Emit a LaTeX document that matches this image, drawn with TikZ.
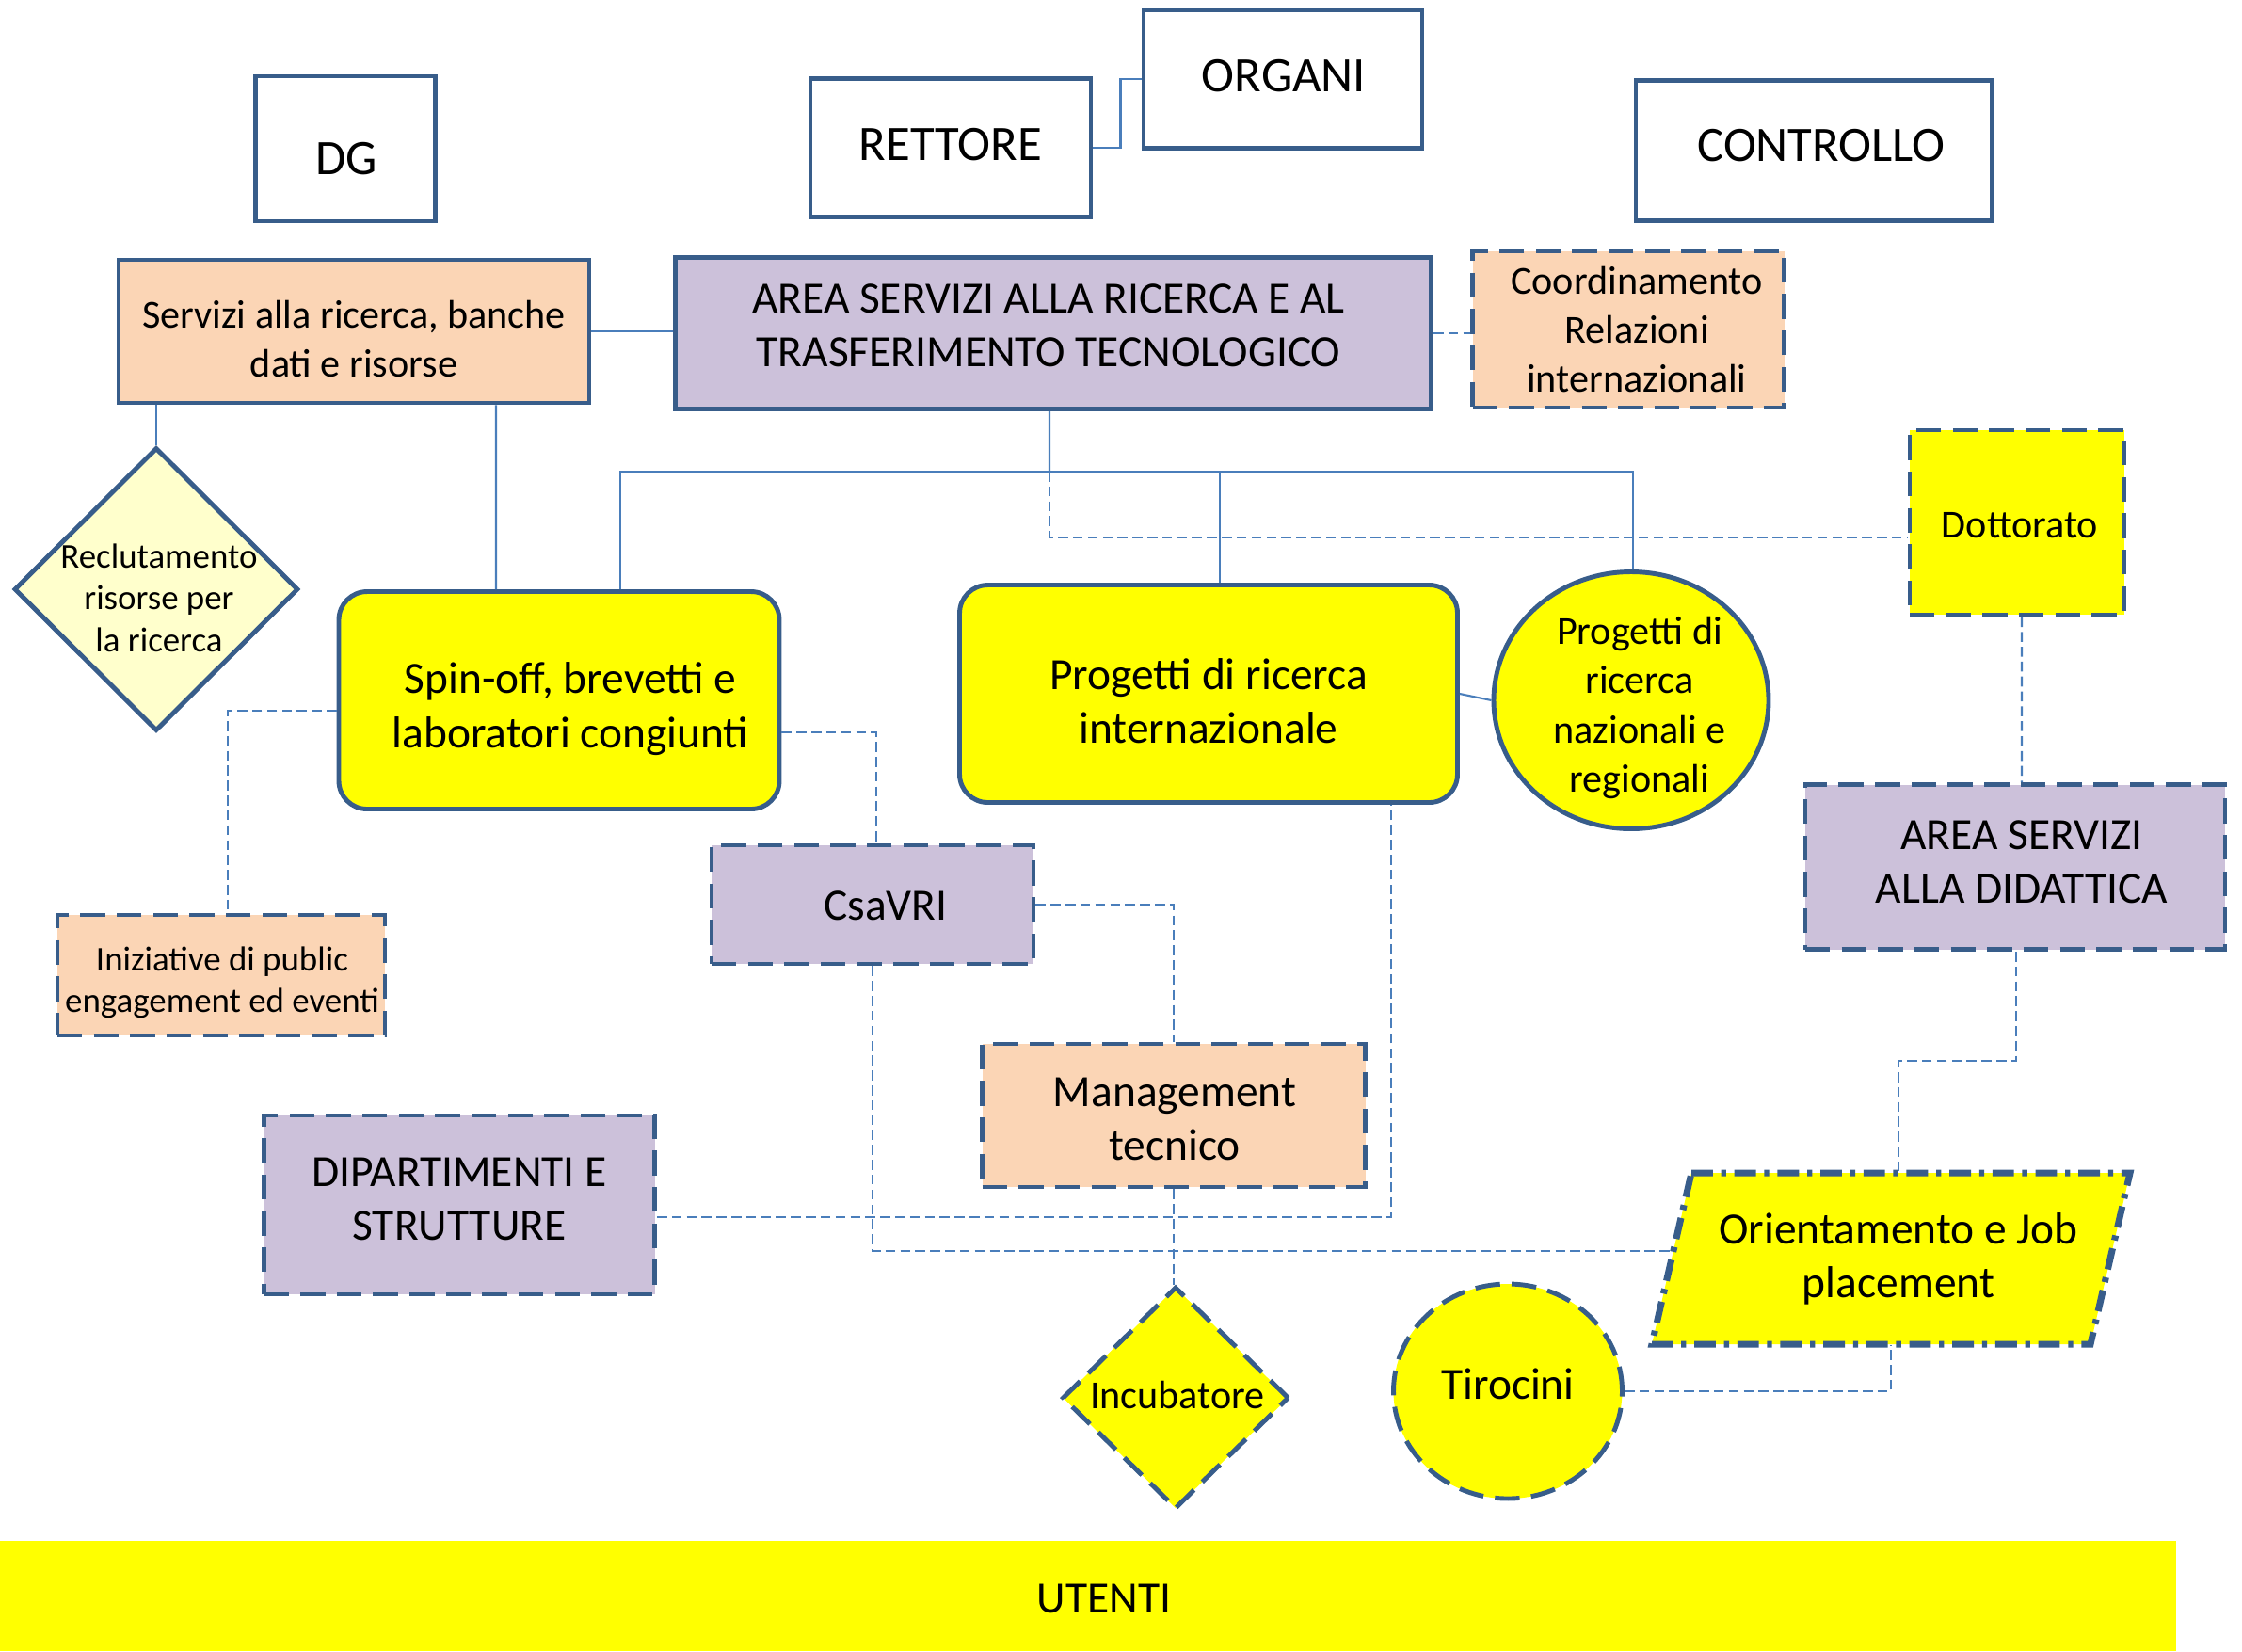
\documentclass[tikz,border=0pt]{standalone}
\usepackage{fontspec}
\setmainfont{Carlito}
\usetikzlibrary{
  shapes.geometric,
  calc,
  positioning
}

\definecolor{boxblue}{HTML}{385D8A}
\definecolor{linkblue}{HTML}{4A7EBB}
\definecolor{peach}{HTML}{FBD5B5}
\definecolor{lavender}{HTML}{CCC1DA}
\definecolor{paleyellow}{HTML}{FFFFCC}
\definecolor{brightyellow}{RGB}{255,255,0}

\newcommand{\bigtxt}{\fontsize{15}{18}\selectfont}
\newcommand{\midtxt}{\fontsize{13.5}{16.3}\selectfont}
\newcommand{\smalltxt}{\fontsize{12}{14.9}\selectfont}
\newcommand{\tinytxt}{\fontsize{10.5}{12.7}\selectfont}

\begin{document}
\begin{tikzpicture}[x=1cm, y=-1cm,
    box/.style = {draw=boxblue, line width=1.4pt, align=center, inner sep=1pt},
    dbox/.style = {box, dash pattern=on 7.5pt off 3.5pt},
    rbox/.style = {box, rounded corners=0.3cm, fill=brightyellow},
    txt/.style = {align=center, inner sep=0pt},
    link/.style = {draw=linkblue, line width=0.6pt},
    dlink/.style = {link, dash pattern=on 3pt off 1.5pt}]
    \useasboundingbox (0,0) rectangle (23.82,17.54);

    % vertice
    \node[box, minimum width=1.91cm, minimum height=1.54cm,
        label={[txt, font=\bigtxt, shift={(0.01,0.11)}]center:DG}] (dg) at (3.67,1.58) {};
    \node[box, minimum width=2.98cm, minimum height=1.47cm,
        label={[txt, font=\bigtxt, shift={(0,-0.03)}]center:RETTORE}] (rett) at (10.10,1.57) {};
    \node[box, minimum width=2.96cm, minimum height=1.47cm,
        label={[txt, font=\bigtxt, shift={(0.01,-0.03)}]center:ORGANI}] (org) at (13.63,0.84) {};
    \node[box, minimum width=3.78cm, minimum height=1.49cm,
        label={[txt, font=\bigtxt, shift={(0.08,-0.05)}]center:CONTROLLO}] (ctrl) at (19.27,1.60) {};

    % aree
    \node[box, fill=peach, minimum width=5.00cm, minimum height=1.52cm,
        label={[txt, font=\smalltxt, shift={(0,0.08)}]center:{Servizi alla ricerca, banche\\dati e risorse}}] (serv) at (3.76,3.52) {};
    \node[box, fill=lavender, minimum width=8.03cm, minimum height=1.61cm,
        label={[txt, font=\midtxt, shift={(-0.05,-0.08)}]center:{AREA SERVIZI ALLA RICERCA E AL\\TRASFERIMENTO TECNOLOGICO}}] (area) at (11.19,3.54) {};
    \node[dbox, fill=peach, minimum width=3.31cm, minimum height=1.66cm,
        label={[txt, font=\smalltxt, shift={(0.09,0)}]center:{Coordinamento\\Relazioni\\internazionali}}] (coord) at (17.30,3.50) {};

    \node[diamond, draw=boxblue, line width=1.4pt, fill=paleyellow, inner sep=0pt,
        minimum width=3.02cm, minimum height=3.01cm,
        label={[txt, font=\tinytxt, shift={(0.03,0.09)}]center:{Reclutamento\\risorse per\\la ricerca}}] (recl) at (1.66,6.26) {};
    \node[rbox, minimum width=4.68cm, minimum height=2.31cm,
        label={[txt, font=\midtxt, shift={(0.12,0.09)}]center:{Spin-off, brevetti e\\laboratori congiunti}}] (spin) at (5.94,7.44) {};
    \node[rbox, minimum width=5.29cm, minimum height=2.31cm,
        label={[txt, font=\midtxt, shift={(0,0.08)}]center:{Progetti di ricerca\\internazionale}}] (intl) at (12.84,7.37) {};
    \node[ellipse, draw=boxblue, line width=1.4pt, fill=brightyellow, inner sep=0pt,
        minimum width=2.92cm, minimum height=2.73cm,
        label={[txt, font=\smalltxt, shift={(0.09,0.08)}]center:{Progetti di\\ricerca\\nazionali e\\regionali}}] (naz) at (17.33,7.44) {};
    \node[dbox, fill=brightyellow, minimum width=2.28cm, minimum height=1.96cm,
        label={[txt, font=\smalltxt, shift={(0.03,0.03)}]center:Dottorato}] (dott) at (21.43,5.55) {};
    \node[dbox, fill=lavender, minimum width=4.46cm, minimum height=1.75cm,
        label={[txt, font=\midtxt, shift={(0.07,-0.05)}]center:{AREA SERVIZI\\ALLA DIDATTICA}}] (did) at (21.41,9.21) {};

    \node[dbox, fill=lavender, minimum width=3.42cm, minimum height=1.26cm,
        label={[txt, font=\midtxt, shift={(0.14,0.01)}]center:CsaVRI}] (csa) at (9.27,9.61) {};
    \node[dbox, fill=peach, minimum width=3.48cm, minimum height=1.28cm,
        label={[txt, font=\tinytxt, shift={(0.01,0.08)}]center:{Iniziative di public\\engagement ed eventi}}] (iniz) at (2.35,10.36) {};
    \node[dbox, fill=peach, minimum width=4.07cm, minimum height=1.52cm,
        label={[txt, font=\midtxt, shift={(0.01,0.04)}]center:{Management\\tecnico}}] (mgmt) at (12.47,11.85) {};
    \node[dbox, fill=lavender, minimum width=4.15cm, minimum height=1.90cm,
        label={[txt, font=\midtxt, shift={(0,-0.06)}]center:{DIPARTIMENTI E\\STRUTTURE}}] (dip) at (4.88,12.80) {};

    % parallelogramma
    \coordinate (oc) at (20.09,13.37);
    \filldraw[draw=boxblue, fill=brightyellow, line width=2pt, line join=miter,
        dash pattern=on 6.5pt off 2.5pt on 1.5pt off 2.5pt]
        ($(oc)+(-2.12,-0.91)$) -- ($(oc)+(2.54,-0.91)$) -- ($(oc)+(2.12,0.91)$) -- ($(oc)+(-2.54,0.91)$) -- cycle;
    \node[minimum width=5.08cm, minimum height=1.82cm, inner sep=0pt,
        label={[txt, font=\midtxt, shift={(0.08,0)}]center:{Orientamento e Job\\placement}}] (orient) at (oc) {};

    \node[diamond, draw=boxblue, line width=1.4pt, dash pattern=on 7.5pt off 3.5pt, fill=brightyellow, inner sep=0pt,
        minimum width=2.41cm, minimum height=2.36cm,
        label={[txt, font=\smalltxt, shift={(0.02,-0.03)}]center:Incubatore}] (incub) at (12.49,14.85) {};
    \node[ellipse, draw=boxblue, line width=1.4pt, dash pattern=on 7.5pt off 3.5pt, fill=brightyellow, inner sep=0pt,
        minimum width=2.43cm, minimum height=2.28cm,
        label={[txt, font=\midtxt, shift={(0,-0.08)}]center:Tirocini}] (tiro) at (16.02,14.78) {};

    \node[fill=brightyellow, minimum width=23.12cm, minimum height=1.17cm, inner sep=0pt,
        label={[txt, font=\midtxt, shift={(0.17,0.03)}]center:UTENTI}] (utenti) at (11.56,16.955) {};

    % collegamenti
    \coordinate (hub) at (11.15,5.01);
    \coordinate (didbend) at (20.17,11.27);

    \draw[link] (rett.east) -- ++(0.29,0) |- (org.west);
    \draw[link] (serv.east) -- (serv.east -| area.west);
    \draw[dlink] (area.east) -- (area.east -| coord.west);
    \draw[link] (recl.north) -- (recl.north |- serv.south);
    \draw[link] ([xshift=1.51cm]serv.south) -- ([xshift=-0.67cm]spin.north);
    \draw[link] ([xshift=-0.04cm]area.south) -- (hub);
    \draw[link] (hub) -| ([xshift=0.65cm]spin.north);
    \draw[link] (hub) -| ([xshift=0.02cm]naz.north);
    \draw[link] ([xshift=0.12cm]intl.north |- hub) -- ([xshift=0.12cm]intl.north);
    \draw[link] (intl.east) -- (naz.west);
    \draw[dlink] (hub) |- ([yshift=-0.16cm]dott.west);
    \draw[dlink] ([xshift=0.05cm]dott.south) -- ([xshift=0.07cm]did.north);
    \draw[dlink] ([yshift=-0.34cm]spin.east) -| ([xshift=0.04cm]csa.north);
    \draw[dlink] ([yshift=-0.11cm]spin.west) -| ([xshift=0.07cm]iniz.north);
    \draw[dlink] (csa.east) -| (mgmt.north);
    \draw[dlink] ([yshift=-0.13cm]dip.east) -| ([xshift=1.94cm]intl.south);
    \draw[dlink] (csa.south) |- ([xshift=0.23cm, yshift=0.08cm]orient.west);
    \draw[dlink] ([xshift=0.01cm]did.south) |- (didbend) -- (didbend |- orient.north);
    \draw[dlink] (mgmt.south) -- (mgmt.south |- incub.north);
    \draw[dlink] (tiro.east) -| (orient.south);
\end{tikzpicture}
\end{document}
